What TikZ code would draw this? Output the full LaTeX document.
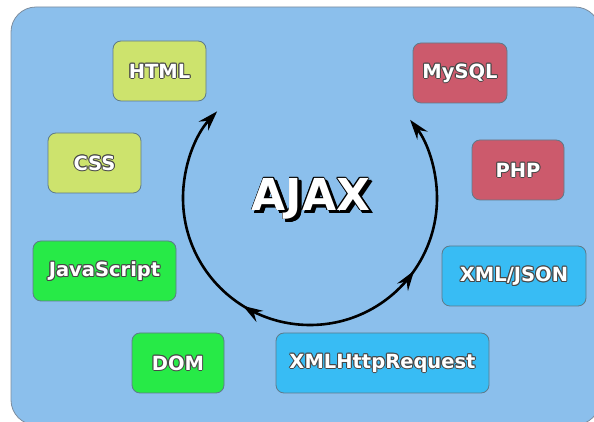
\documentclass[tikz,border=0pt]{standalone}
\usepackage{fontspec}
\setmainfont{DejaVu Sans}
\usetikzlibrary{arrows.meta,decorations.markings}
\definecolor{bgblue}{HTML}{8BBFEC}
\definecolor{bgborder}{HTML}{7D8D9E}
\definecolor{boxborder}{HTML}{5E7A8A}
\definecolor{ygreen}{HTML}{CDE36D}
\definecolor{rosered}{HTML}{CC5A6C}
\definecolor{brightgreen}{HTML}{27EA47}
\definecolor{skyblue}{HTML}{38BCF4}
\definecolor{txtline}{HTML}{474747}
\newbox\olbox
\newdimen\olw
\newcommand\outlined[4]{% #1 outline colour, #2 width, #3 fill colour, #4 text
  \setbox\olbox\hbox{#4}\olw=#2\relax
  \rlap{\color{#1}%
    \rlap{\kern\olw\copy\olbox}\rlap{\kern-\olw\copy\olbox}%
    \rlap{\raise\olw\copy\olbox}\rlap{\lower\olw\copy\olbox}%
    \rlap{\kern.7\olw\raise.7\olw\copy\olbox}\rlap{\kern-.7\olw\raise.7\olw\copy\olbox}%
    \rlap{\kern.7\olw\lower.7\olw\copy\olbox}\rlap{\kern-.7\olw\lower.7\olw\copy\olbox}}%
  {\color{#3}\copy\olbox}}
\newcommand\lbl[1]{\outlined{txtline}{1.05pt}{white}{#1}}
\begin{document}
\begin{tikzpicture}[x=1pt,y=1pt,
  techbox/.style={draw=boxborder, line width=0.8pt, rounded corners=8pt,
    minimum height=60pt, inner sep=0pt,
    font=\bfseries\fontsize{19.5}{23}\selectfont},
  yg/.style={techbox, fill=ygreen},
  rd/.style={techbox, fill=rosered},
  gr/.style={techbox, fill=brightgreen},
  bl/.style={techbox, fill=skyblue},
  cycle/.style={line width=2.6pt, black,
    -{Stealth[length=20pt,width=13pt,inset=7pt]}},
  midtip/.style={postaction={decorate}, decoration={markings,
    mark=at position #1 with {\arrow{Stealth[length=20pt,width=13pt,inset=7pt]}}}}
]
\useasboundingbox (0,0) rectangle (594,422);
\fill[bgblue, draw=bgborder, line width=0.8pt, rounded corners=25pt]
  (11,415) rectangle (600,-3);

\node[yg, minimum width=93pt] (html) at (159.5,351) {\lbl{HTML}};
\node[yg, minimum width=93pt] (css) at (94.5,259) {\lbl{CSS}};
\node[gr, minimum width=143pt] (js) at (104.5,151) {\lbl{JavaScript}};
\node[gr, minimum width=92pt] (dom) at (178,59) {\lbl{DOM}};
\node[bl, minimum width=213pt] (xhr) at (382.5,59) {\lbl{XMLHttpRequest}};
\node[bl, minimum width=144pt] (xmljson) at (514,146) {\lbl{XML/JSON}};
\node[rd, minimum width=92pt] (php) at (518,252) {\lbl{PHP}};
\node[rd, minimum width=94pt] (mysql) at (460,349) {\lbl{MySQL}};

\node[inner sep=0pt, font=\bfseries\fontsize{44}{50}\selectfont] (ajax) at (311,222)
  {\rlap{\kern3pt\lower3pt\hbox{\outlined{black}{0.8pt}{black}{AJAX}}}%
   \outlined{black}{0.8pt}{white}{AJAX}};

\coordinate (c) at (310,224);
\draw[cycle, midtip=0.24] (c) ++(270:127) arc[start angle=270, end angle=137, radius=127pt];
\draw[cycle, midtip=0.43] (c) ++(270:127) arc[start angle=270, end angle=398, radius=127pt];
\end{tikzpicture}
\end{document}
